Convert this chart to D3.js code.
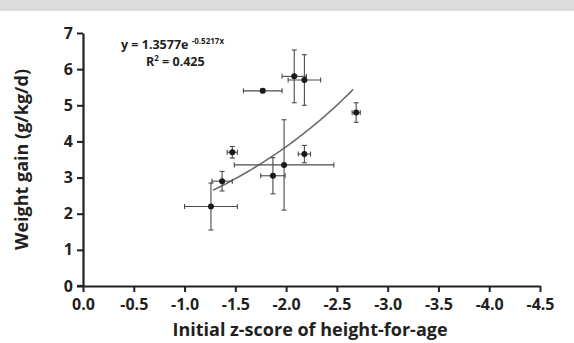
<!DOCTYPE html>
<html lang="en">
<head>
<meta charset="utf-8">
<script src="https://d3js.org/d3.v7.min.js"></script>
<style>
  body { margin: 0; background: #fff; }
  #chart { width: 574px; height: 343px; }
  text { font-family: "Open Sans", sans-serif; font-weight: 700; fill: #231f20; }
</style>
</head>
<body>
<div id="chart"></div>
<script>
// initial height-for-age z-score vs weight gain, with SD bars
var zScores  = [-1.26, -1.37, -1.47, -1.87, -1.98, -2.18, -1.77, -2.08, -2.18, -2.69];
var gains    = [2.2, 2.9, 3.7, 3.05, 3.35, 3.65, 5.4, 5.8, 5.7, 4.8];
var zErr     = [0.26, 0.10, 0.05, 0.12, 0.49, 0.06, 0.19, 0.12, 0.16, 0.04];
var gainErr  = [0.65, 0.27, 0.16, 0.50, 1.25, 0.24, 0.05, 0.73, 0.70, 0.27];

var xTicks = [0, -0.5, -1, -1.5, -2, -2.5, -3, -3.5, -4, -4.5];
var yTicks = [0, 1, 2, 3, 4, 5, 6, 7];

// fitted curve y = a * e^(b x)
var fitA = 1.3577, fitB = -0.5217;
var fitRange = [-1.28, -2.66];

var width = 574, height = 343;

var svg = d3.select("#chart").append("svg")
    .attr("width", width)
    .attr("height", height);

// grey strip along the top
svg.append("rect")
    .attr("x", 0).attr("y", 0)
    .attr("width", width).attr("height", 11)
    .attr("fill", "#dcdcdc");

var x = d3.scaleLinear().domain([0, -4.5]).range([83, 540]);
var y = d3.scaleLinear().domain([0, 7]).range([286, 33]);

var xAxis = svg.append("g")
    .attr("transform", "translate(0," + y(0) + ")")
    .call(d3.axisBottom(x).tickValues(xTicks).tickSize(6).tickSizeOuter(0)
        .tickFormat(function(d) { return d3.format(".1f")(d).replace("\u2212", "-"); }));

var yAxis = svg.append("g")
    .attr("transform", "translate(" + x(0) + ",0)")
    .call(d3.axisLeft(y).tickValues(yTicks).tickSize(6).tickSizeOuter(0)
        .tickFormat(d3.format("d")));

[xAxis, yAxis].forEach(function(g) {
  g.select(".domain").attr("stroke", "#231f20").attr("stroke-width", 2.2);
  g.selectAll(".tick line").attr("stroke", "#231f20").attr("stroke-width", 2);
  g.selectAll(".tick text")
      .attr("font-family", "Open Sans, sans-serif")
      .attr("font-weight", 700)
      .attr("font-size", 16)
      .attr("fill", "#231f20");
});
xAxis.selectAll(".tick text").attr("dy", "1em").attr("y", 8);
yAxis.selectAll(".tick text").attr("x", -10);
// x axis line reaches a little left of the y axis
xAxis.append("line")
    .attr("x1", x(0) - 6).attr("x2", x(0))
    .attr("stroke", "#231f20").attr("stroke-width", 2.2);

// axis titles
svg.append("text")
    .attr("x", 310).attr("y", 336)
    .attr("text-anchor", "middle")
    .attr("font-size", 18)
    .text("Initial z-score of height-for-age");

svg.append("text")
    .attr("transform", "translate(28," + (y(0) + y(7)) / 2 + ") rotate(-90)")
    .attr("text-anchor", "middle")
    .attr("font-size", 18)
    .text("Weight gain (g/kg/d)");

// trend curve
var curve = d3.range(0, 41).map(function(i) {
  var z = fitRange[0] + (fitRange[1] - fitRange[0]) * i / 40;
  return [z, fitA * Math.exp(fitB * z)];
});
svg.append("path")
    .datum(curve)
    .attr("fill", "none")
    .attr("stroke", "#6d6d6d")
    .attr("stroke-width", 1.6)
    .attr("d", d3.line().x(function(d) { return x(d[0]); }).y(function(d) { return y(d[1]); }));

// error bars and points
var pts = zScores.map(function(z, i) {
  return { z: z, g: gains[i], ez: zErr[i], eg: gainErr[i] };
});
var cap = 2.5;
var node = svg.selectAll(".pt").data(pts).enter().append("g").attr("class", "pt");

node.append("line")
    .attr("x1", function(d) { return x(d.z - d.ez); })
    .attr("x2", function(d) { return x(d.z + d.ez); })
    .attr("y1", function(d) { return y(d.g); })
    .attr("y2", function(d) { return y(d.g); });
node.append("line")
    .attr("x1", function(d) { return x(d.z); })
    .attr("x2", function(d) { return x(d.z); })
    .attr("y1", function(d) { return y(d.g - d.eg); })
    .attr("y2", function(d) { return y(d.g + d.eg); });
// caps
[-1, 1].forEach(function(s) {
  node.append("line")
      .attr("x1", function(d) { return x(d.z + s * d.ez); })
      .attr("x2", function(d) { return x(d.z + s * d.ez); })
      .attr("y1", function(d) { return y(d.g) - cap; })
      .attr("y2", function(d) { return y(d.g) + cap; });
  node.append("line")
      .attr("x1", function(d) { return x(d.z) - cap; })
      .attr("x2", function(d) { return x(d.z) + cap; })
      .attr("y1", function(d) { return y(d.g + s * d.eg); })
      .attr("y2", function(d) { return y(d.g + s * d.eg); });
});
node.selectAll("line")
    .attr("stroke", "#4a4a4a")
    .attr("stroke-width", 1.1);

node.append("circle")
    .attr("cx", function(d) { return x(d.z); })
    .attr("cy", function(d) { return y(d.g); })
    .attr("r", 3)
    .attr("fill", "#1a1a1a");

// equation of the fitted curve
var eq = svg.append("text")
    .attr("x", 121).attr("y", 49)
    .attr("font-size", 12.5);
eq.append("tspan").text("y = 1.3577e ");
eq.append("tspan").attr("font-size", 8).attr("dy", -5).text("-0.5217x");

var r2 = svg.append("text")
    .attr("x", 146).attr("y", 66)
    .attr("font-size", 12.5);
r2.append("tspan").text("R");
r2.append("tspan").attr("font-size", 8).attr("dy", -5).text("2");
r2.append("tspan").attr("dy", 5).text(" = 0.425");
</script>
</body>
</html>
